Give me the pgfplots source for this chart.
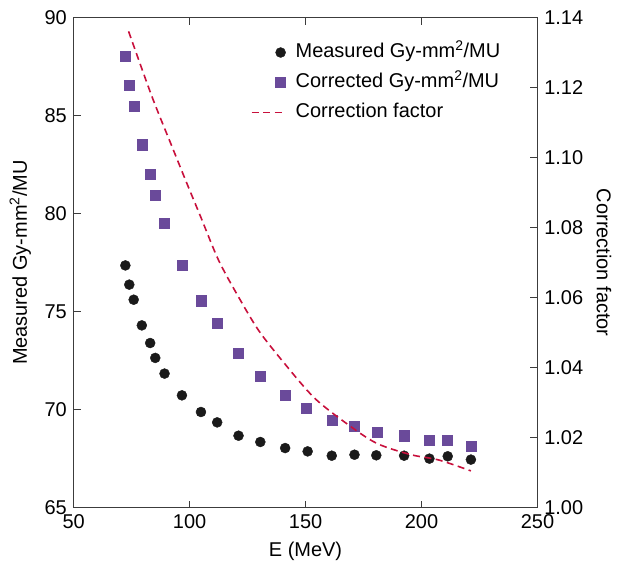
\documentclass[border=0pt]{standalone}
\usepackage{fontspec}
\setmainfont{Liberation Sans}
\usepackage{pgfplots}
\pgfplotsset{compat=1.18}
\definecolor{meas}{RGB}{26,26,26}
\definecolor{corr}{RGB}{106,74,154}
\definecolor{cf}{RGB}{200,16,60}
\definecolor{axcol}{RGB}{60,60,60}
\pgfplotsset{
  circleg/.style={legend image code/.code={\path[draw=none,fill=none] (0bp,0bp) -- (42bp,0bp); \fill[meas] (29bp,0bp) circle (5bp);}},
  squareleg/.style={legend image code/.code={\path[draw=none,fill=none] (0bp,0bp) -- (42bp,0bp); \fill[corr] (24bp,-5bp) rectangle (34bp,5bp);}},
  lineleg/.style={legend image code/.code={\path[draw=none,fill=none] (0bp,0bp) -- (42bp,0bp); \draw[##1] (0bp,0bp) -- (34bp,0bp);}},
}

\begin{document}
\fontsize{20}{24}\selectfont
\begin{tikzpicture}
\pgfplotsset{
  every axis/.append style={font=\fontsize{20}{24}\selectfont},
  common/.style={
    scale only axis, width=463bp, height=489bp,
    xmin=50, xmax=250,
    axis on top=true,
    tick align=inside,
    major tick length=7bp,
    every tick/.style={draw=axcol, line width=0.9pt},
    axis line style={line width=1.1pt, color=axcol},
    xticklabel style={/pgf/number format/assume math mode=true},
  }
}
\begin{axis}[
  common,
  ymin=65, ymax=90,
  xtick={50,100,150,200,250},
  ytick={65,70,75,80,85,90},
  ytick pos=left,
  xtick pos=both,
  xticklabel pos=bottom,
  yticklabel style={/pgf/number format/assume math mode=true},
  xlabel={E (MeV)},
  ylabel={Measured Gy-mm\textsuperscript{2}/MU},
]
\addplot[only marks, mark=*, mark size=5bp, color=meas] coordinates {
(72.3,77.36) (74.0,76.38) (75.9,75.61) (79.4,74.30) (83.0,73.40) (85.2,72.64)
(89.2,71.84) (96.7,70.73) (104.9,69.88) (111.9,69.35) (121.1,68.67) (130.5,68.35)
(141.2,68.04) (150.9,67.87) (161.3,67.65) (171.1,67.70) (180.5,67.67) (192.5,67.65)
(203.4,67.50) (211.3,67.62) (221.3,67.45)
};
\addplot[only marks, mark=square*, mark size=5bp, color=corr] coordinates {
(72.3,88.06) (74.0,86.58) (76.2,85.51) (79.7,83.52) (83.2,82.04) (85.2,80.92)
(89.1,79.49) (96.8,77.36) (105.0,75.56) (112.1,74.39) (121.1,72.86) (130.5,71.73)
(141.2,70.73) (150.3,70.05) (161.6,69.46) (171.1,69.18) (181.0,68.86) (192.5,68.67)
(203.4,68.42) (211.2,68.42) (221.4,68.13)
};
\end{axis}
\begin{axis}[
  common,
  ymin=1.00, ymax=1.14,
  axis line style={draw=none},
  xtick=\empty,
  ytick pos=right,
  yticklabel pos=right,
  ylabel near ticks,
  ytick={1.00,1.02,1.04,1.06,1.08,1.10,1.12,1.14},
  yticklabel style={/pgf/number format/.cd, fixed, fixed zerofill, precision=2, assume math mode=true},
  ylabel={Correction factor},
  ylabel style={rotate=180},
  legend style={at={(0.375,0.958)}, anchor=north west, draw=none, fill=none,
    font=\fontsize{20}{24}\selectfont, row sep=6bp,
    nodes={inner sep=2bp, text height=15bp, text depth=5bp}},
  legend cell align=left,
]
\addlegendimage{circleg}
\addlegendentry{Measured Gy-mm\textsuperscript{2}/MU}
\addlegendimage{squareleg}
\addlegendentry{Corrected Gy-mm\textsuperscript{2}/MU}
\addplot[color=cf, line width=1.6bp, dash pattern=on 7bp off 4.5bp, smooth, no marks, lineleg] coordinates {
(73.7,1.1361) (83.75,1.1175) (92.4,1.1032) (98.8,1.0927) (104.6,1.0834) (112.5,1.0707)
(121.1,1.0602) (129.7,1.0507) (139.8,1.0421) (154.2,1.0311) (171.1,1.0224) (181.6,1.0181)
(195.6,1.0151) (207.5,1.0136) (221.3,1.0105)
};
\addlegendentry{Correction factor}
\end{axis}
\path (current bounding box.north west) ++(-3bp,4bp);
\end{tikzpicture}
\end{document}
